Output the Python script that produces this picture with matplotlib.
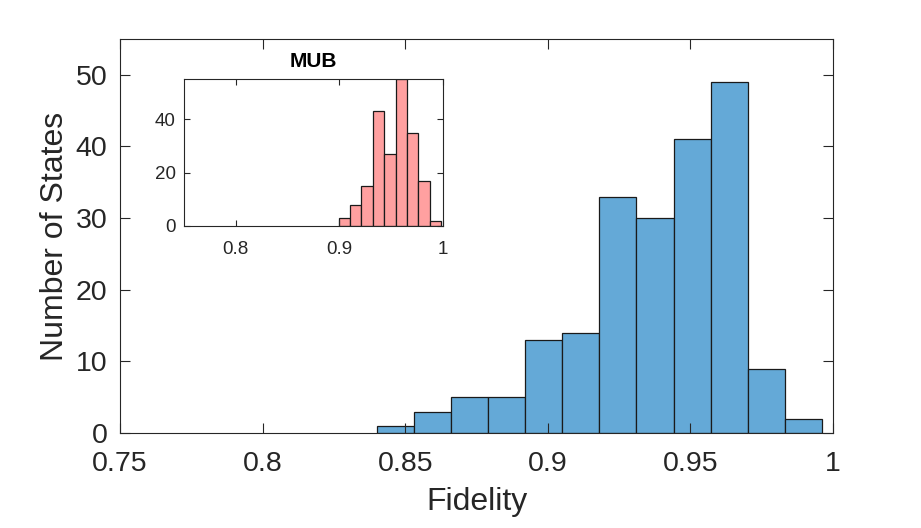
import matplotlib
matplotlib.use("Agg")
import matplotlib.pyplot as plt

# ---- data ----
main_edges = [0.8401, 0.8531, 0.8661, 0.8791, 0.8921, 0.9051, 0.9181,
              0.9311, 0.9441, 0.9571, 0.9701, 0.9831, 0.9961]
main_counts = [1, 3, 5, 5, 13, 14, 33, 30, 41, 49, 9, 2]

inset_edges = [0.8995, 0.9105, 0.9215, 0.9325, 0.9435, 0.9545,
               0.9655, 0.9765, 0.9875, 0.9985]
inset_counts = [3, 8, 15, 43, 27, 55, 35, 17, 2]

main_xticks = [0.75, 0.8, 0.85, 0.9, 0.95, 1.0]
main_xticklabels = ["0.75", "0.8", "0.85", "0.9", "0.95", "1"]
main_yticks = [0, 10, 20, 30, 40, 50]
inset_xticks = [0.8, 0.9, 1.0]
inset_xticklabels = ["0.8", "0.9", "1"]
inset_yticks = [0, 20, 40]

plt.rcParams['font.family'] = ["Liberation Sans", "DejaVu Sans"]

axcol = "#262626"
fig = plt.figure(figsize=(9.21, 5.28), dpi=100)
ax = fig.add_axes([120/921, 1-433/528, 713/921, 394/528])

lefts = main_edges[:-1]
widths = [b - a for a, b in zip(main_edges[:-1], main_edges[1:])]
ax.bar(lefts, main_counts, width=widths, align='edge', color="#64A9D7",
       edgecolor="#1a1a1a", linewidth=0.9)
ax.set_xlim(0.75, 1.0)
ax.set_ylim(0, 55)
ax.set_xticks(main_xticks)
ax.set_xticklabels(main_xticklabels)
ax.set_yticks(main_yticks)
ax.tick_params(direction='in', top=True, right=True, length=7, width=0.8,
               color=axcol, labelcolor=axcol, labelsize=20.5)
ax.tick_params(axis='x', pad=13)
ax.tick_params(axis='y', pad=9)
for s in ax.spines.values():
    s.set_color(axcol)
    s.set_linewidth(0.8)
ax.set_xlabel("Fidelity", fontsize=23, color=axcol, labelpad=7)
ax.set_ylabel("Number of States", fontsize=23, color=axcol, labelpad=4)

ins = fig.add_axes([184/921, 1-226/528, 258.7/921, 146.7/528])
ilefts = inset_edges[:-1]
iwidths = [b - a for a, b in zip(inset_edges[:-1], inset_edges[1:])]
ins.bar(ilefts, inset_counts, width=iwidths, align='edge', color="#FFA0A0",
        edgecolor="#1a1a1a", linewidth=0.9)
ins.set_xlim(0.75, 1.0)
ins.set_ylim(0, 55)
ins.set_xticks(inset_xticks)
ins.set_xticklabels(inset_xticklabels)
ins.set_yticks(inset_yticks)
ins.tick_params(direction='in', top=True, right=True, length=4, width=0.8,
                color=axcol, labelcolor=axcol, labelsize=13.5)
ins.tick_params(axis='x', pad=11)
ins.tick_params(axis='y', pad=6)
for s in ins.spines.values():
    s.set_color(axcol)
    s.set_linewidth(0.8)
ins.set_title("MUB", fontsize=15, fontweight='bold', color="black", pad=8.5)

fig.savefig("out.png", dpi=100)
